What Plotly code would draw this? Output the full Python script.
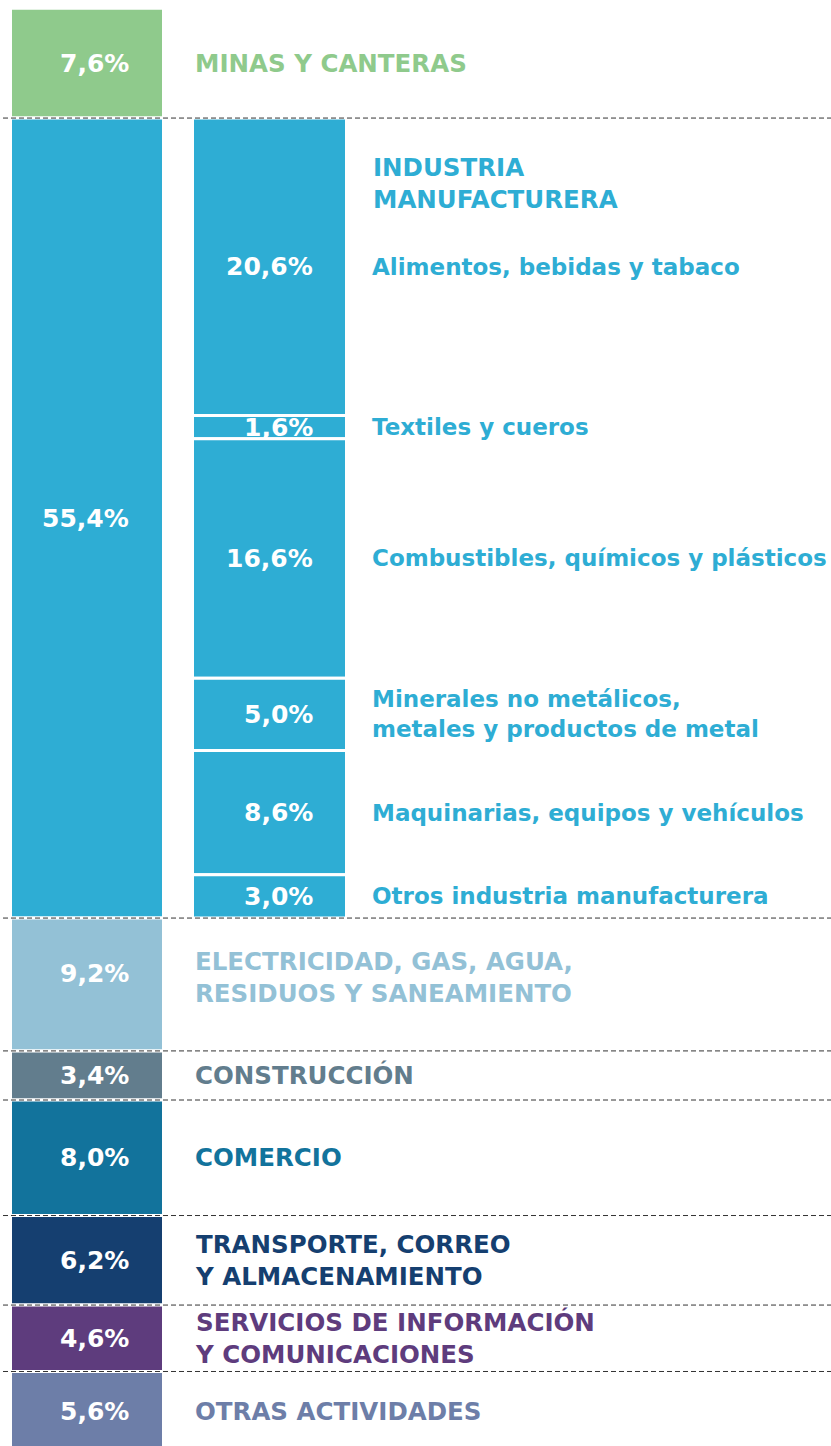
import plotly.graph_objects as go

# ---- data ----
sectors = [
    "MINAS Y CANTERAS",
    "INDUSTRIA<br>MANUFACTURERA",
    "ELECTRICIDAD, GAS, AGUA,<br>RESIDUOS Y SANEAMIENTO",
    "CONSTRUCCIÓN",
    "COMERCIO",
    "TRANSPORTE, CORREO<br>Y ALMACENAMIENTO",
    "SERVICIOS DE INFORMACIÓN<br>Y COMUNICACIONES",
    "OTRAS ACTIVIDADES",
]
sector_values = [7.6, 55.4, 9.2, 3.4, 8.0, 6.2, 4.6, 5.6]
sector_colors = ["#8fca8c", "#2eadd4", "#93c1d6", "#627d8d",
                 "#12739c", "#153f70", "#5e3c7d", "#6d7ea8"]

subsectors = [
    "Alimentos, bebidas y tabaco",
    "Textiles y cueros",
    "Combustibles, químicos y plásticos",
    "Minerales no metálicos,<br>metales y productos de metal",
    "Maquinarias, equipos y vehículos",
    "Otros industria manufacturera",
]
sub_values = [20.6, 1.6, 16.6, 5.0, 8.6, 3.0]
sub_color = "#2eadd4"


def fmt(v):
    return f"{v:.1f}".replace(".", ",") + "%"


# cumulative bases
sector_bases = []
acc = 0.0
for v in sector_values:
    sector_bases.append(acc)
    acc += v
manuf_index = 1
sub_bases = []
acc = sector_bases[manuf_index]
for v in sub_values:
    sub_bases.append(acc)
    acc += v

FONT = "DejaVu Sans"
MAIN_X, MAIN_W = 87, 153
SUB_X, SUB_W = 269.5, 154

fig = go.Figure()
fig.add_trace(go.Bar(
    x=[MAIN_X] * len(sector_values), y=sector_values, base=sector_bases,
    width=[MAIN_W] * len(sector_values),
    marker=dict(color=sector_colors, line=dict(color="white", width=3)),
    hoverinfo="skip",
))
fig.add_trace(go.Bar(
    x=[SUB_X] * len(sub_values), y=sub_values, base=sub_bases,
    width=[SUB_W] * len(sub_values),
    marker=dict(color=sub_color, line=dict(color="white", width=3)),
    hoverinfo="skip",
))

annotations = []
pct_shift = {2: 11}
label_shift = {2: 7}
for i, (name, v, b, c) in enumerate(zip(sectors, sector_values, sector_bases, sector_colors)):
    mid = b + v / 2
    annotations.append(dict(
        x=131, y=mid, xref="x", yref="y", text=fmt(v), showarrow=False,
        xanchor="right", yanchor="middle", yshift=pct_shift.get(i, 0),
        font=dict(family=FONT, size=25, color="white", weight="bold"),
    ))
    if i == manuf_index:
        continue
    annotations.append(dict(
        x=193, y=mid, xref="x", yref="y", text=name, showarrow=False,
        xanchor="left", yanchor="middle", align="left", yshift=label_shift.get(i, 0),
        font=dict(family=FONT, size=24.5, color=c, weight="bold"),
    ))

# header for manufacturing
annotations.append(dict(
    x=371, y=sector_bases[manuf_index] + 4.5, xref="x", yref="y",
    text=sectors[manuf_index], showarrow=False, xanchor="left", yanchor="middle",
    align="left", font=dict(family=FONT, size=24.5, color=sub_color, weight="bold"),
))

for name, v, b in zip(subsectors, sub_values, sub_bases):
    mid = b + v / 2
    annotations.append(dict(
        x=315, y=mid, xref="x", yref="y", text=fmt(v), showarrow=False,
        xanchor="right", yanchor="middle",
        font=dict(family=FONT, size=25, color="white", weight="bold"),
    ))
    annotations.append(dict(
        x=370, y=mid, xref="x", yref="y", text=name, showarrow=False,
        xanchor="left", yanchor="middle", align="left",
        font=dict(family=FONT, size=23, color=sub_color, weight="bold"),
    ))

shapes = []
for b in sector_bases[1:]:
    shapes.append(dict(
        type="line", xref="x", yref="y", x0=3, x1=831, y0=b, y1=b,
        line=dict(color="#333333", width=1, dash="5px,3px"), layer="above",
    ))

fig.update_layout(
    width=831, height=1446,
    margin=dict(l=0, r=0, t=0, b=0),
    paper_bgcolor="white", plot_bgcolor="white",
    showlegend=False, barmode="overlay",
    xaxis=dict(range=[0, 831], visible=False, fixedrange=True),
    yaxis=dict(range=[99.56, -0.575], visible=False, fixedrange=True),
    annotations=annotations, shapes=shapes,
)

fig.write_html(
    "out.html",
    config={"displayModeBar": False},
    post_script="document.body.style.margin='0';document.body.style.overflow='hidden';",
)
